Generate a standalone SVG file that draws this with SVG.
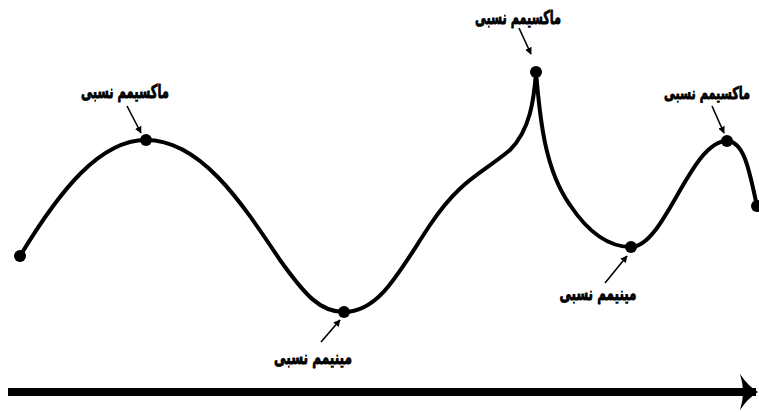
<svg xmlns="http://www.w3.org/2000/svg" width="759" height="412" viewBox="0 0 759 412">
<style>
.curve{fill:none;stroke:#000;stroke-width:4;stroke-linecap:round}
.dot{fill:#000}
.lbl{font-family:"DejaVu Sans","Noto Sans",sans-serif;font-weight:bold;font-size:19px;fill:#000;stroke:#000;stroke-width:0.9;stroke-linejoin:round;text-anchor:middle}
.ptr{stroke:#000;stroke-width:1.6;fill:none;marker-end:url(#ah)}
</style>
<defs>
<marker id="ah" viewBox="0 0 10 10" refX="9" refY="5" markerWidth="7" markerHeight="7" orient="auto" markerUnits="userSpaceOnUse">
<path d="M0,0 L10,5 L0,10 Z" fill="#000"/>
</marker>
<marker id="bigah" viewBox="0 0 20 36" refX="16" refY="18" markerWidth="20" markerHeight="36" orient="auto" markerUnits="userSpaceOnUse">
<path d="M0,0 Q8,12 18,18 Q8,24 0,36 Q6,18 0,0 Z" fill="#000"/>
</marker>
</defs>
<g id="axis">
<line x1="8" y1="392" x2="756" y2="392" stroke="#000" stroke-width="8" marker-end="url(#bigah)"/>
</g>
<g id="curve">
<path class="curve" d="M20,256 C60,190 100,140 146,140 C200,140 240,200 280,260 C305,295 320,312 344,312 C380,312 400,270 430,225 C460,180 480,175 510,150 C530,130 534,100 536,72 C540,120 545,170 570,205 C590,235 610,247 631,247 C665,247 690,141 727,141 C745,141 750,175 757,206"/>
</g>
<g id="start"><circle class="dot" cx="20" cy="256" r="6"/></g>
<g id="end"><circle class="dot" cx="757" cy="206" r="6"/></g>
<g id="max1">
<circle class="dot" cx="146" cy="140" r="6"/>
<text class="lbl" x="125" y="98" textLength="88" lengthAdjust="spacingAndGlyphs">ماکسیمم نسبی</text>
</g>
<g id="max2">
<circle class="dot" cx="536" cy="72" r="6"/>
<text class="lbl" x="518" y="24" textLength="86" lengthAdjust="spacingAndGlyphs">ماکسیمم نسبی</text>
</g>
<g id="max3">
<circle class="dot" cx="727" cy="141" r="6"/>
<text class="lbl" x="707" y="99" style="font-size:17px" textLength="86" lengthAdjust="spacingAndGlyphs">ماکسیمم نسبی</text>
</g>
<g id="min1">
<circle class="dot" cx="344" cy="312" r="6"/>
<text class="lbl" x="313" y="364" textLength="78" lengthAdjust="spacingAndGlyphs">مینیمم نسبی</text>
</g>
<g id="min2">
<circle class="dot" cx="631" cy="247" r="6"/>
<text class="lbl" x="598" y="300" textLength="77" lengthAdjust="spacingAndGlyphs">مینیمم نسبی</text>
</g>
<g id="connectors">
<line class="ptr" x1="127" y1="106" x2="141" y2="133"/>
<line class="ptr" x1="519" y1="28" x2="531" y2="54"/>
<line class="ptr" x1="712" y1="106" x2="724" y2="133"/>
<line class="ptr" x1="321" y1="342" x2="340" y2="320"/>
<line class="ptr" x1="605" y1="283" x2="627" y2="256"/>
</g>
</svg>
